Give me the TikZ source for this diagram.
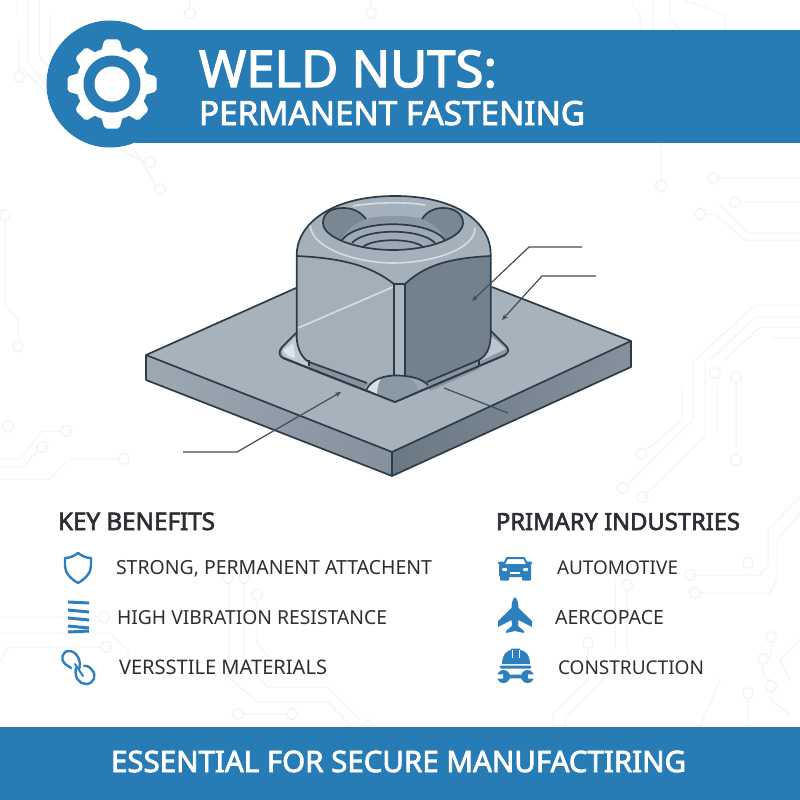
\documentclass[tikz,border=0pt]{standalone}
\usepackage{graphicx}
\usepackage{fontspec}
\setmainfont{Noto Sans}
\newfontfamily\hd{Noto Sans}[FakeBold=2.6]
\usetikzlibrary{arrows.meta}
\definecolor{band}{HTML}{277CB5}
\definecolor{iconblue}{HTML}{2E7FBE}
\definecolor{trace}{HTML}{F1F3F5}
\definecolor{ink}{HTML}{2C3B47}
\definecolor{leader}{HTML}{3E4F5C}
\definecolor{plateT}{HTML}{A6B3BD}
\definecolor{plateL}{HTML}{8B99A5}
\definecolor{plateR}{HTML}{74838F}
\definecolor{faceL}{HTML}{A3B0BA}
\definecolor{faceR}{HTML}{72818D}
\definecolor{shine}{HTML}{D6DDE2}
\definecolor{txt}{HTML}{2B2F33}
\newcommand{\wtext}[2]{\resizebox{#1pt}{!}{#2}}
\tikzset{
  tr/.style={draw=trace,line width=1pt,line join=round},
  pad/.style={draw=trace,line width=1.2pt,fill=none},
  outl/.style={draw=ink,line width=1.7pt,line join=round},
  lead/.style={draw=leader,line width=1.2pt},
  arr/.style={-{Stealth[length=6pt,width=5pt]}},
  lab/.style={anchor=base west,inner sep=0pt,outer sep=0pt},
  ic/.style={draw=iconblue,line width=2.4pt,fill=none},
  icf/.style={fill=iconblue,draw=none},
}
\begin{document}
\begin{tikzpicture}[x=1pt,y=-1pt]
\useasboundingbox (0,0) rectangle (800,800);
\fill[white] (0,0) rectangle (800,800);
% ---- background circuit traces
\draw[tr] (17,0)--(17,15) (28,0)--(28,62)--(47,87) (39,0)--(39,56)--(48,66) (50,13)--(50,52);
\draw[tr] (19,40)--(19,71) (18,65)--(47,93);
\draw[pad] (19,77) circle[radius=5.5pt] (190,13) circle[radius=5.5pt] (371,13) circle[radius=5.5pt] (150,162) circle[radius=5.5pt] (160,189) circle[radius=5.5pt] (5,215) circle[radius=5.5pt] (18,347) circle[radius=5pt];
\draw[tr] (190,0)--(190,8) (371,0)--(371,8) (118,148)--(145,162) (133,148)--(156,185) (5,220)--(5,305)--(18,320)--(18,342);
\draw[tr] (640,30)--(640,15)--(633,5)--(633,0) (653,0)--(653,30) (670,0)--(670,20)--(680,30) (685,0)--(725,15)--(725,30);
\draw[tr] (661,143)--(661,181) (718,178)--(800,178) (740,202)--(800,202) (705,214)--(715,214)--(745,240)--(800,240) (720,205)--(748,233)--(800,233);
\draw[pad] (661,186) circle[radius=5.5pt] (713,178) circle[radius=5.5pt] (735,202) circle[radius=5.5pt] (700,214) circle[radius=5.5pt];
\draw[tr] (800,305)--(755,305)--(695,360) (800,317)--(755,317)--(710,360) (800,327)--(760,327)--(725,360) (800,338)--(772,338);
\draw[tr] (682,387)--(682,420)--(645,451) (693,360)--(693,420)--(627,485) (705,360)--(705,437)--(646,494) (717,387)--(717,433) (736,382)--(736,455);
\draw[pad] (715,373) circle[radius=5.5pt] (736,377) circle[radius=5.5pt] (641,454) circle[radius=5.5pt] (623,488) circle[radius=5.5pt] (642,497) circle[radius=5.5pt] (736,460) circle[radius=5.5pt];
\draw[tr] (800,497)--(768,530)--(768,565)--(760,575)--(695,575) (800,513)--(777,540)--(777,580)--(770,593)--(700,593);
\draw[pad] (690,575) circle[radius=5.5pt] (695,593) circle[radius=5.5pt] (748,563) circle[radius=5.5pt] (771,637) circle[radius=5.5pt] (763,659) circle[radius=5.5pt] (771,686) circle[radius=5.5pt] (748,693) circle[radius=5.5pt];
\draw[tr] (771,642)--(771,655)--(767,659) (763,664)--(763,675)--(771,681) (748,698)--(748,727) (771,691)--(771,700)--(790,715) (800,640)--(780,660)--(790,680) (720,680)--(700,727);
\draw[tr] (627,590)--(627,650) (615,577)--(615,650) (553,727)--(553,713)--(588,680)--(588,649) (565,727)--(565,718)--(627,655);
\draw[pad] (627,585) circle[radius=5.5pt] (588,643) circle[radius=5.5pt] (8,426) circle[radius=5.5pt] (66,431) circle[radius=5.5pt] (42,447) circle[radius=5.5pt] (124,459) circle[radius=5.5pt];
\draw[tr] (60,431)--(42,431)--(20,459)--(0,459) (37,451)--(23,467)--(0,467) (118,459)--(70,459)--(50,479)--(0,479);
\draw[tr] (0,617)--(98,617) (0,633)--(110,633)--(128,650)--(128,668) (0,662)--(8,647)--(100,647);
\draw[pad] (104,617) circle[radius=5.5pt] (106,647) circle[radius=5.5pt] (228,578) circle[radius=5.5pt] (244,578) circle[radius=5.5pt] (257,595) circle[radius=5.5pt] (238,714) circle[radius=5.5pt] (292,714) circle[radius=5.5pt] (368,725) circle[radius=5pt];
\draw[tr] (229,584)--(229,677)--(257,702)--(328,702)--(350,725) (244,584)--(244,660)--(267,687)--(328,687)--(360,720) (257,601)--(257,643)--(277,667) (244,714)--(286,714);
% ---- header
\fill[band] (135,30) rectangle (800,143);
\fill[band] (110,84) circle[radius=63.5pt];
\begin{scope}[shift={(112,84)}]
  \fill[white] (0,0) circle[radius=36pt];
  \foreach \a in {0,45,...,315}{
    \fill[white,rotate=\a,rounded corners=2pt] (-11,-32) -- (-7.5,-44.5) -- (7.5,-44.5) -- (11,-32) -- cycle;
  }
  \fill[band] (0,0) circle[radius=28.5pt];
  \fill[white] (0,0) circle[radius=17.5pt];
\end{scope}
\node[lab,text=white] (title1) at (199,87) {\wtext{298}{\hd WELD NUTS:}};
\node[lab,text=white] (title2) at (199,125) {\wtext{386}{\hd PERMANENT FASTENING}};
% ---- plate
\shade[left color=plateL!85!white,right color=plateL!95!black] (146,355) -- (392,452) -- (392,476) -- (146,380) -- cycle;
\shade[left color=plateR!92!black,right color=plateR!88!white] (392,452) -- (631,341) -- (631,367) -- (392,476) -- cycle;
\fill[plateT] (146,355) -- (296,288) -- (492,287) -- (631,341) -- (392,452) -- cycle;
\draw[outl] (146,380) -- (146,355) -- (296,288) (492,287) -- (631,341) -- (392,452) -- (146,355);
\draw[outl] (146,380) -- (392,476) -- (631,367) -- (631,341) (392,452) -- (392,476);
% ---- recess
\fill[plateL] (296,333) -- (282,347) .. controls (278,352) and (279,356) .. (283,358) -- (395,402) -- (505,355) .. controls (509,352) and (509,349) .. (506,346) -- (491,331) -- cycle;
\fill[faceR!85!white] (309,362) -- (367,383) -- (366,392) -- (309,370) -- cycle;
\fill[faceR!85!white] (479,360) -- (427,382) -- (430,391) -- (479,369) -- cycle;
\fill[shine!55!plateT] (295,336) -- (283,349) .. controls (281,353) and (282,355) .. (285,357) -- (309,367) -- (309,360) .. controls (302,356) and (298,347) .. (295,336) -- cycle;
\fill[shine!80!white] (283,350) .. controls (288,347) and (292,345) .. (293,343) .. controls (294,350) and (295,354) .. (295,358) .. controls (291,358) and (286,355) .. (283,350) -- cycle;
\fill[shine!45!plateT] (491,336) -- (506,349) -- (480,361) .. controls (486,354) and (490,346) .. (491,336) -- cycle;
\draw[outl] (296,333) -- (282,347) .. controls (278,352) and (279,356) .. (283,358) -- (395,402) -- (505,355) .. controls (509,352) and (509,349) .. (506,346) -- (491,331);
% ---- nut body
\fill[faceL] (296.7,256) -- (296.7,337) .. controls (297,349) and (302,358) .. (309,362) -- (367,383) -- (394,383) -- (394,284) .. controls (370,265) and (340,258) .. (296.7,256) -- cycle;
\fill[faceR] (490.7,256) -- (490.7,337) .. controls (490,349) and (486,356) .. (479,360) -- (427,382) -- (405,383) -- (405,284) .. controls (425,265) and (450,258) .. (490.7,256) -- cycle;
\fill[faceL!92!white] (394,284) rectangle (405,384);
\fill[plateT!96!faceR] (296.7,256) .. controls (296,225) and (330,196) .. (395,196) .. controls (460,196) and (492,225) .. (490.7,256) .. controls (450,258) and (425,265) .. (405,284) -- (394,284) .. controls (370,265) and (340,258) .. (296.7,256) -- cycle;
\draw[shine,line width=1.7pt] (393,287) -- (298,328);
\draw[shine,line width=1.6pt] (310,225) .. controls (312,250) and (360,263) .. (393,263) .. controls (430,263) and (475,250) .. (475,228);
\draw[shine,line width=1.6pt] (353,206) .. controls (375,202) and (410,202) .. (425,205);
% ---- hole
\begin{scope}
  \clip (366,219) .. controls (360,211) and (352,208) .. (343,208) .. controls (330,208) and (323,214) .. (323,223) .. controls (323,238) and (358,250) .. (393,250) .. controls (428,250) and (463,238) .. (463,223) .. controls (463,214) and (455,208) .. (443,208) .. controls (435,208) and (427,211) .. (422,219) .. controls (410,215) and (378,215) .. (366,219) -- cycle;
  \fill[plateT!70!plateL] (320,200) rectangle (470,255);
  \fill[faceR!95!white] (323,205) -- (366,205) -- (366,219) .. controls (352,225) and (345,232) .. (342,240) -- (323,240) -- cycle;
  \fill[faceR!95!white] (463,205) -- (422,205) -- (422,219) .. controls (435,225) and (442,232) .. (445,240) -- (463,240) -- cycle;
  \fill[plateL] (366,219) .. controls (378,215) and (410,215) .. (422,219) .. controls (435,225) and (442,232) .. (445,240) .. controls (430,225) and (360,225) .. (342,240) .. controls (345,232) and (352,225) .. (366,219) -- cycle;
  \fill[plateT!65!plateL] (342,240) .. controls (358,219) and (428,219) .. (445,240) -- (445,255) -- (342,255) -- cycle;
  \draw[outl] (342,240) .. controls (358,219) and (428,219) .. (445,240);
  \draw[outl] (352,243) .. controls (365,228) and (421,228) .. (435,243);
  \draw[outl] (363,247) .. controls (373,238) and (413,238) .. (423,247);
\end{scope}
\draw[outl] (366,219) .. controls (360,211) and (352,208) .. (343,208) .. controls (330,208) and (323,214) .. (323,223) .. controls (323,238) and (358,250) .. (393,250) .. controls (428,250) and (463,238) .. (463,223) .. controls (463,214) and (455,208) .. (443,208) .. controls (435,208) and (427,211) .. (422,219);
% ---- nut outlines
\draw[outl] (309,362) .. controls (302,358) and (297,349) .. (296.7,337) -- (296.7,256) .. controls (296,225) and (330,196) .. (395,196) .. controls (460,196) and (492,225) .. (490.7,256) -- (490.7,337) .. controls (490,349) and (486,356) .. (479,360);
\draw[outl] (296.7,256) .. controls (340,258) and (370,265) .. (394,284) -- (405,284) .. controls (425,265) and (450,258) .. (490.7,256);
\draw[outl] (394,284) -- (394,377) (405,284) -- (405,377);
\draw[outl] (309,360) -- (309,366) (309,362) -- (367,383) (479,360) -- (427,382) (479,360) -- (479,366);
% ---- front weld
\fill[plateL] (365,388) .. controls (372,379) and (384,375.5) .. (396,375.5) .. controls (409,375.5) and (421,378) .. (428,385) -- (395,402) -- cycle;
\fill[shine!90!white] (365,388) .. controls (370,383) and (375,380) .. (381,378) .. controls (378,384) and (377,390) .. (377,394) -- cycle;
\fill[plateT!60!plateL] (410,377) .. controls (418,378) and (423,381) .. (428,385) -- (418,390) .. controls (417,385) and (414,380) .. (410,377) -- cycle;
\draw[outl] (366,390) .. controls (372,379) and (384,375.5) .. (396,375.5) .. controls (409,375.5) and (421,378) .. (428,385);
\draw[outl] (283,358) -- (395,402) -- (505,355);
% ---- leaders
\coordinate (l1a) at (582,247); \coordinate (l1b) at (529,247); \coordinate (l1c) at (472,301);
\coordinate (l2a) at (596,276); \coordinate (l2b) at (542,276); \coordinate (l2c) at (502,320);
\coordinate (l3a) at (183,452); \coordinate (l3b) at (237,452); \coordinate (l3c) at (341,392);
\coordinate (l4a) at (444,388); \coordinate (l4b) at (508,413);
\draw[lead,arr] (l1a) -- (l1b) -- (l1c);
\draw[lead,arr] (l2a) -- (l2b) -- (l2c);
\draw[lead,arr] (l3a) -- (l3b) -- (l3c);
\draw[lead] (l4a) -- (l4b);
% ---- lists
\node[lab,text=txt] (kb) at (58,530) {\wtext{157}{\hd KEY BENEFITS}};
\node[lab,text=txt] (pi) at (496,530) {\wtext{244}{\hd PRIMARY INDUSTRIES}};
\node[lab,text=txt] (b1) at (116,574) {\wtext{316}{STRONG, PERMANENT ATTACHENT}};
\node[lab,text=txt] (b2) at (117,624) {\wtext{270}{HIGH VIBRATION RESISTANCE}};
\node[lab,text=txt] (b3) at (119,674) {\wtext{208}{VERSSTILE MATERIALS}};
\node[lab,text=txt] (i1) at (557,574) {\wtext{121}{AUTOMOTIVE}};
\node[lab,text=txt] (i2) at (555,624) {\wtext{109}{AERCOPACE}};
\node[lab,text=txt] (i3) at (558,674) {\wtext{146}{CONSTRUCTION}};
% shield
\draw[ic,line join=round] (78,553) .. controls (82,556) and (86,558) .. (91,558) -- (91,566) .. controls (91,573) and (85,579) .. (78,583) .. controls (71,579) and (65,573) .. (65,566) -- (65,558) .. controls (70,558) and (74,556) .. (78,553) -- cycle;
% spring
\foreach \y/\d in {602/1,610/2,618/2,626/2}{
  \draw[iconblue,line width=3pt] (68,\y) -- (89,\y+\d);
}
\draw[iconblue,line width=3pt] (68,632) -- (89,631);
% links
\draw[ic,line cap=round] (79,669) .. controls (82,662) and (77,651) .. (69,651) .. controls (62,651) and (60,660) .. (65,664) -- (71,668);
\draw[ic,line cap=round] (76,668) .. controls (74,677) and (79,684) .. (86,684) .. controls (94,684) and (97,675) .. (92,670) .. controls (90,667) and (86,665) .. (84,666);
\draw[iconblue,line width=2pt,line cap=round] (75,664) -- (83,676);
% car
\fill[iconblue,rounded corners=2pt] (499,564) rectangle (531,577);
\draw[iconblue,line width=2pt,line join=round] (503,566) -- (507,558) -- (524,558) -- (528,566);
\fill[iconblue,rounded corners=1pt] (498,561.5) rectangle (504,564.5);
\fill[iconblue,rounded corners=1pt] (526,561.5) rectangle (532,564.5);
\fill[iconblue,rounded corners=1pt] (500,575) rectangle (509,580.5);
\fill[iconblue,rounded corners=1pt] (522,575) rectangle (531,580.5);
\fill[white,rounded corners=1pt] (502,568) rectangle (507,571);
\fill[white,rounded corners=1pt] (523,568) rectangle (528,571);
\fill[white] (510,572) rectangle (520,574);
% plane
\fill[iconblue] (515,597) .. controls (518,600) and (518.5,604) .. (518.5,608) -- (532,621) -- (532,627) -- (518.5,620) -- (518,626) -- (524,631) -- (524,633) -- (515,631) -- (506,633) -- (506,631) -- (512,626) -- (511.5,620) -- (498,627) -- (498,621) -- (511.5,608) .. controls (511.5,604) and (512,600) .. (515,597) -- cycle;
% helmet and wrench
\fill[iconblue] (502,664) .. controls (502,654) and (508,650) .. (511,650) -- (511,648.5) -- (520,648.5) -- (520,650) .. controls (524,650) and (530,654) .. (530,664) -- cycle;
\draw[white,line width=1pt] (512,650) -- (512,658) (519,650) -- (519,658);
\fill[iconblue,rounded corners=1pt] (500,665.5) rectangle (531,668.5);
\fill[iconblue] (503.5,676.5) circle[radius=6.5pt] (527.5,676.5) circle[radius=6.5pt] (503,674.7) rectangle (528,678.3);
\fill[white] (496,674.3) rectangle (503,678.7) (528,674.3) rectangle (535,678.7);
% ---- footer
\fill[band] (0,727) rectangle (800,800);
\node[lab,text=white] (foot) at (111,772) {\wtext{575}{\hd ESSENTIAL FOR SECURE MANUFACTIRING}};
\end{tikzpicture}
\end{document}
